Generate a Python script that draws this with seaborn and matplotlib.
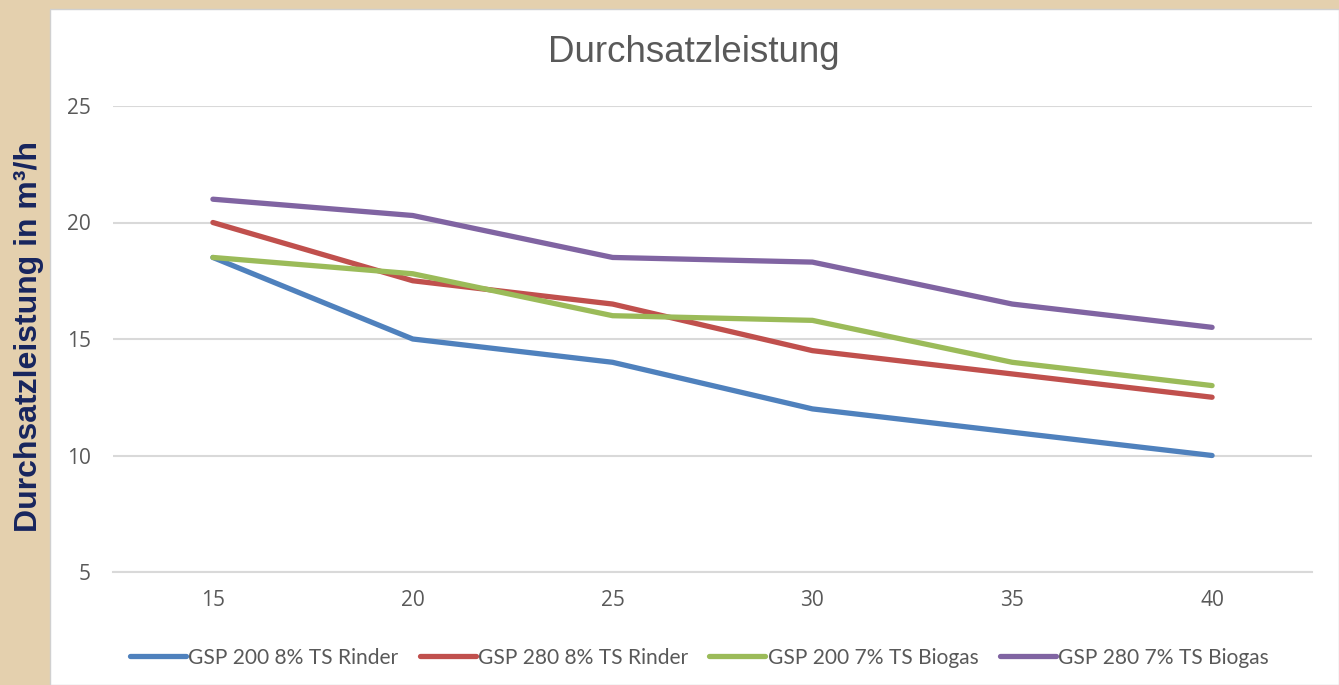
import matplotlib
matplotlib.use('Agg')
import matplotlib.pyplot as plt
import seaborn as sns
import pandas as pd
from matplotlib.patches import Rectangle

# data
temps = [15, 20, 25, 30, 35, 40]
series_names = ['GSP 200 8% TS Rinder', 'GSP 280 8% TS Rinder',
                'GSP 200 7% TS Biogas', 'GSP 280 7% TS Biogas']
gsp200_rinder = [18.5, 15.0, 14.0, 12.0, 11.0, 10.0]
gsp280_rinder = [20.0, 17.5, 16.5, 14.5, 13.5, 12.5]
gsp200_biogas = [18.5, 17.8, 16.0, 15.8, 14.0, 13.0]
gsp280_biogas = [21.0, 20.3, 18.5, 18.3, 16.5, 15.5]
y_ticks = [5, 10, 15, 20, 25]

colors = ['#4F81BD', '#C0504D', '#9BBB59', '#8064A2']

rows = []
for name, vals in zip(series_names, [gsp200_rinder, gsp280_rinder, gsp200_biogas, gsp280_biogas]):
    for i, (t, v) in enumerate(zip(temps, vals)):
        rows.append({'pos': i, 'temp': t, 'value': v, 'series': name})
df = pd.DataFrame(rows)

sns.set_style('white')
plt.rcParams['font.family'] = ['Open Sans', 'DejaVu Sans']

fig = plt.figure(figsize=(13.39, 6.85), dpi=100)
fig.patch.set_facecolor('#E4D0AE')
# white chart panel
fig.patches.append(Rectangle((50 / 1339, 0), 1 - 50 / 1339, (685 - 9) / 685,
                             transform=fig.transFigure, facecolor='white',
                             edgecolor='#D0D0D0', lw=1, zorder=-5))

ax = fig.add_axes([113 / 1339, (685 - 572) / 685, (1312 - 113) / 1339, (572 - 106) / 685])
ax.set_facecolor('none')

sns.lineplot(data=df, x='pos', y='value', hue='series', hue_order=series_names,
             palette=colors, linewidth=3.8, ax=ax, sort=False)
for line in ax.get_lines():
    line.set_solid_capstyle('round')
    line.set_solid_joinstyle('round')

ax.set_xlim(-0.5, len(temps) - 0.5)
ax.set_ylim(5, 25)
ax.set_xticks(range(len(temps)))
ax.set_xticklabels([str(t) for t in temps])
ax.set_yticks(y_ticks)
ax.yaxis.grid(True, color='#D9D9D9', lw=1.5)
ax.set_axisbelow(True)
for s in ['top', 'right', 'left']:
    ax.spines[s].set_visible(False)
ax.spines['bottom'].set_color('#D9D9D9')
ax.spines['bottom'].set_linewidth(1.5)
ax.tick_params(axis='both', length=0, labelsize=15, labelcolor='#595959')
ax.tick_params(axis='x', pad=13)
ax.tick_params(axis='y', pad=15.8)
ax.set_xlabel('')
ax.set_ylabel('')

fig.text(694 / 1339, 1 - 53 / 685, 'Durchsatzleistung', ha='center', va='center',
         fontsize=26.5, color='#595959', family=['Liberation Sans', 'DejaVu Sans'])
fig.text(29 / 1339, 1 - 336 / 685, 'Durchsatzleistung in m³/h', rotation=90,
         ha='center', va='center', fontsize=23, fontweight='bold', color='#17255E',
         family=['Liberation Sans', 'DejaVu Sans'])

handles, labels = ax.get_legend_handles_labels()
leg = ax.legend(handles, labels, loc='center', bbox_to_anchor=(0.489, -0.184),
                ncol=4, frameon=False, handlelength=2.67, handletextpad=0.12,
                columnspacing=1.0, prop={'family': 'Lato', 'size': 15.1})
for t in leg.get_texts():
    t.set_color('#595959')
for h in leg.legend_handles:
    h.set_linewidth(3.8)
    h.set_solid_capstyle('round')

plt.savefig('out.png', dpi=100, facecolor=fig.get_facecolor())
plt.close()
